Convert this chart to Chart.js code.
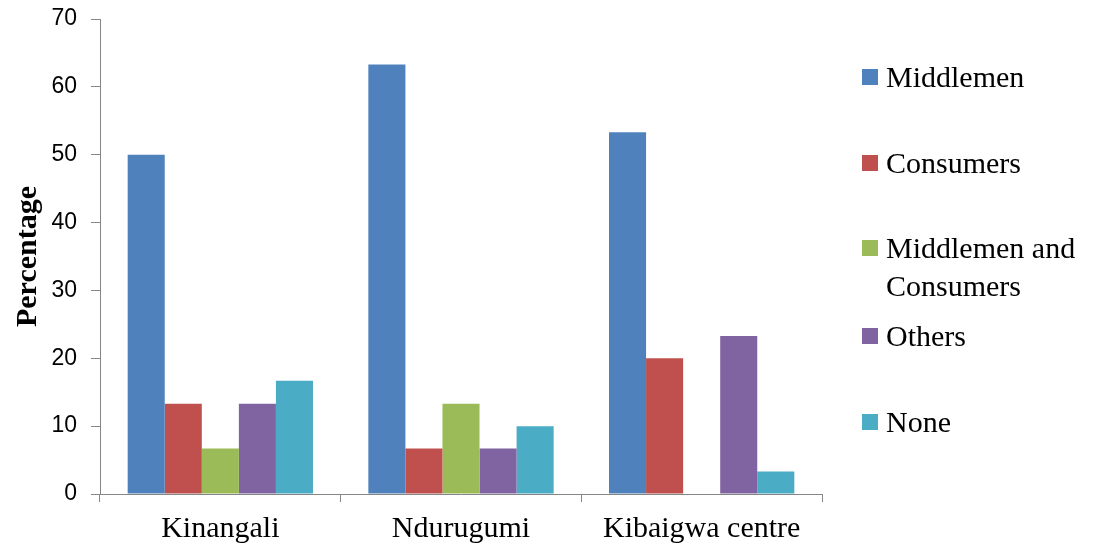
<!DOCTYPE html>
<html>
<head>
<meta charset="utf-8">
<script src="https://cdn.jsdelivr.net/npm/chart.js@4"></script>
<style>
  html, body { margin: 0; padding: 0; background: #fff; }
  #wrap { position: relative; width: 1096px; height: 547px; }
  #legend { position: absolute; left: 862px; top: 0; font-family: "Liberation Serif", "Times New Roman", serif; font-size: 30px; color: #000; }
  .item { position: absolute; left: 0; white-space: nowrap; line-height: 38px; }
  .box { position: absolute; left: 0; width: 16px; height: 16px; }
  .txt { position: absolute; left: 24px; }
</style>
</head>
<body>
<div id="wrap">
  <canvas id="chart" width="1096" height="547"></canvas>
  <div id="legend"></div>
</div>
<script>
const categories = ['Kinangali', 'Ndurugumi', 'Kibaigwa centre'];
const seriesNames = ['Middlemen', 'Consumers', 'Middlemen and Consumers', 'Others', 'None'];
const middlemen = [50, 63.3, 53.3];
const consumers = [13.3, 6.7, 20];
const middlemenAndConsumers = [6.7, 13.3, 0];
const others = [13.3, 6.7, 23.3];
const none = [16.7, 10, 3.3];
const yTicks = [0, 10, 20, 30, 40, 50, 60, 70];

const colors = ['#4F81BD', '#C0504D', '#9BBB59', '#8064A2', '#4BACC6'];
const values = [middlemen, consumers, middlemenAndConsumers, others, none];

const ctx = document.getElementById('chart').getContext('2d');
const chart = new Chart(ctx, {
    type: 'bar',
    data: {
        labels: categories,
        datasets: seriesNames.map(function(name, i) {
            return {
                label: name,
                data: values[i],
                backgroundColor: colors[i],
                borderWidth: 0,
                barPercentage: 1,
                categoryPercentage: 0.77
            };
        })
    },
    options: {
        responsive: false,
        animation: false,
        layout: { padding: { top: 19, right: 274, left: 0, bottom: 0 } },
        plugins: {
            legend: { display: false },
            tooltip: { enabled: false }
        },
        scales: {
            x: {
                grid: { display: true, drawOnChartArea: false, offset: true, color: '#868686', tickLength: 8, lineWidth: 1 },
                border: { color: '#868686', width: 1 },
                ticks: { color: '#000', padding: 9, font: { family: 'Liberation Serif', size: 30 } },
                afterFit: function(scale) { scale.height = 53; }
            },
            y: {
                min: 0,
                max: 70,
                afterBuildTicks: function(scale) { scale.ticks = yTicks.map(function(v) { return { value: v }; }); },
                grid: { display: true, drawOnChartArea: false, color: '#868686', tickLength: 9, lineWidth: 1 },
                border: { color: '#868686', width: 1 },
                ticks: { color: '#000', padding: 14, font: { family: 'Liberation Sans', size: 23 } },
                title: {
                    display: true,
                    text: 'Percentage',
                    color: '#000',
                    padding: { top: 10, bottom: 4 },
                    font: { family: 'Liberation Serif', size: 30, weight: 'bold' }
                },
                afterFit: function(scale) {
                    scale.width = 100;
                    scale.paddingTop = 0;
                    scale.paddingBottom = 0;
                }
            }
        }
    }
});

// legend on the right, built from the series arrays
const legendLines = [['Middlemen'], ['Consumers'], ['Middlemen and', 'Consumers'], ['Others'], ['None']];
const legendTop = [58, 144, 229, 317, 403];
const legend = document.getElementById('legend');
seriesNames.forEach(function(name, i) {
    const item = document.createElement('div');
    item.className = 'item';
    item.style.top = legendTop[i] + 'px';
    const box = document.createElement('div');
    box.className = 'box';
    box.style.background = colors[i];
    box.style.top = '11px';
    const txt = document.createElement('div');
    txt.className = 'txt';
    txt.innerHTML = legendLines[i].join('<br>');
    item.appendChild(box);
    item.appendChild(txt);
    legend.appendChild(item);
});
</script>
</body>
</html>
